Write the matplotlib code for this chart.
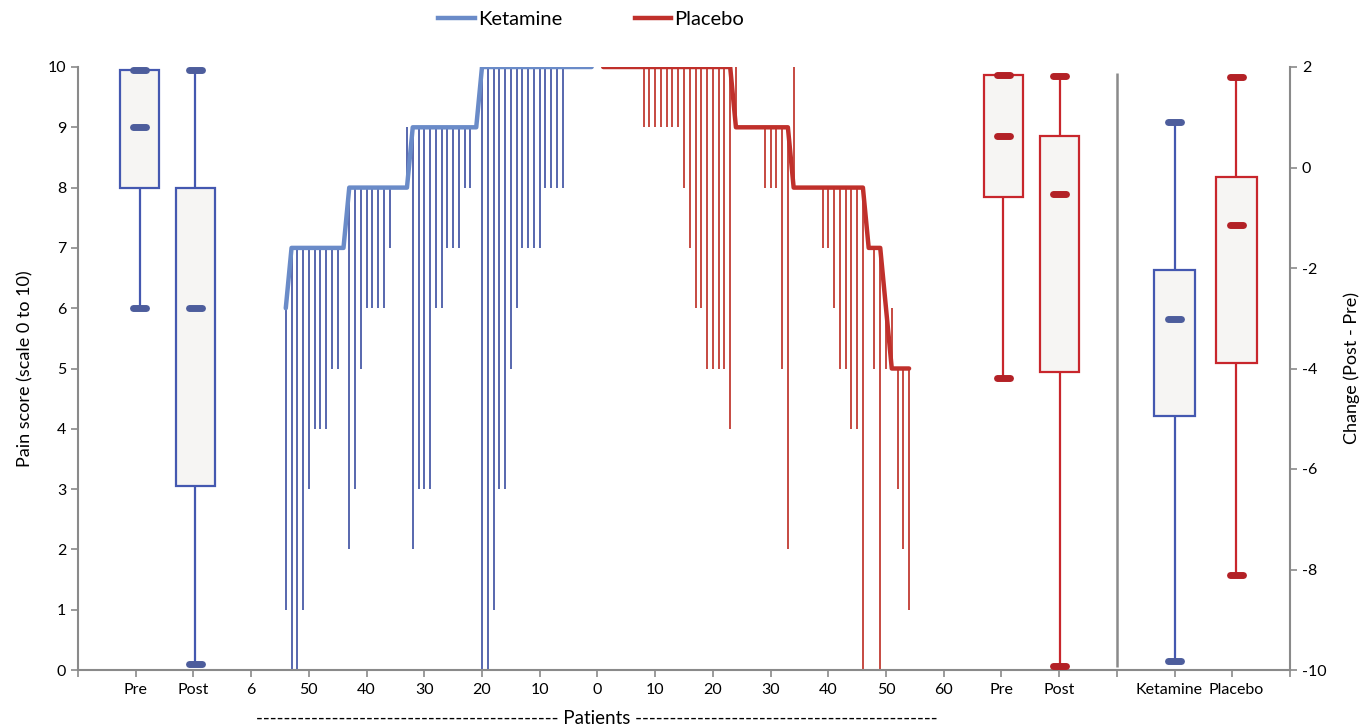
import matplotlib
matplotlib.use("Agg")
import matplotlib.pyplot as plt
from matplotlib.lines import Line2D
import numpy as np

plt.rcParams['font.family'] = ['Lato', 'DejaVu Sans']
plt.rcParams['axes.unicode_minus'] = False

# patient profiles (sorted), patient 1..54
ket_pre = [10, 10, 10, 10, 10, 10, 10, 10, 10, 10,
           10, 10, 10, 10, 10, 10, 10, 10, 10, 10,
           9, 9, 9, 9, 9, 9, 9, 9, 9, 9,
           9, 9, 8, 8, 8, 8, 8, 8, 8, 8,
           8, 8, 8, 7, 7, 7, 7, 7, 7, 7,
           7, 7, 7, 6]
ket_post = [10, 10, 10, 10, 10, 8, 8, 8, 8, 7,
            7, 7, 7, 6, 5, 3, 3, 1, 0, 0,
            9, 8, 8, 7, 7, 7, 6, 6, 3, 3,
            3, 2, 9, 8, 8, 7, 6, 6, 6, 6,
            5, 3, 2, 7, 5, 5, 4, 4, 4, 3,
            1, 0, 0, 1]
pla_pre = [10, 10, 10, 10, 10, 10, 10, 10, 10, 10,
           10, 10, 10, 10, 10, 10, 10, 10, 10, 10,
           10, 10, 10, 9, 9, 9, 9, 9, 9, 9,
           9, 9, 9, 8, 8, 8, 8, 8, 8, 8,
           8, 8, 8, 8, 8, 8, 7, 7, 7, 6,
           5, 5, 5, 5]
pla_post = [10, 10, 10, 10, 10, 10, 10, 9, 9, 9,
            9, 9, 9, 9, 8, 7, 6, 6, 5, 5,
            5, 5, 4, 10, 9, 9, 9, 9, 8, 8,
            8, 5, 2, 10, 8, 8, 8, 8, 7, 7,
            6, 5, 5, 4, 4, 0, 7, 5, 0, 5,
            6, 3, 2, 1]

# box summaries: (q1, median, q3, low, high)
ket_boxes = {'Pre': (8.0, 9.0, 9.95, 6.0, 9.95), 'Post': (3.05, 6.0, 8.0, 0.1, 9.95)}
pla_boxes = {'Pre': (7.85, 8.85, 9.87, 4.85, 9.87), 'Post': (4.95, 7.9, 8.85, 0.07, 9.85)}
change_boxes = {'Ketamine': (-4.95, -3.01, -2.04, -9.83, 0.9),
                'Placebo': (-3.9, -1.15, -0.19, -8.1, 1.8)}

tick_labels = ['Pre', 'Post', '6', '50', '40', '30', '20', '10', '0',
               '10', '20', '30', '40', '50', '60', 'Pre', 'Post',
               'Ketamine', 'Placebo']
label_pos = [-80, -70, -60, -50, -40, -30, -20, -10, 0,
             10, 20, 30, 40, 50, 60, 70, 80, 99.0, 110.6]

blue_thick = '#6a8bc8'
blue_thin = '#4a5ca8'
blue_box = '#4458b0'
blue_mark = '#4d5d9c'
red_thick = '#c0302b'
red_thin = '#c23b33'
red_box = '#c8262c'
red_mark = '#b32126'
grey = '#8a8a8a'

fig = plt.figure(figsize=(13.71, 7.27), dpi=100)
ax = fig.add_axes([78 / 1371, 57 / 727, 1212 / 1371, 603 / 727])
ax2 = ax.twinx()


def draw_box(a, x, stats, edge, mark, w=6.8):
    q1, med, q3, lo, hi = stats
    a.vlines(x, lo, q1, color=edge, lw=1.6, zorder=2)
    a.vlines(x, q3, hi, color=edge, lw=1.6, zorder=2)
    a.bar(x, q3 - q1, bottom=q1, width=w, facecolor='#f6f5f3',
          edgecolor=edge, linewidth=1.6, zorder=3)
    a.hlines([lo, med, hi], x - 1.1, x + 1.1, color=mark, lw=5,
             capstyle='round', zorder=4)


n = np.arange(1, len(ket_pre) + 1)

# ketamine patients go left from 0, placebo to the right
ax.vlines(-n, ket_pre, ket_post, color=blue_thin, lw=1.3, zorder=2)
ax.plot(-n, ket_pre, color=blue_thick, lw=3.2, solid_capstyle='round',
        solid_joinstyle='round', zorder=3)
ax.vlines(n, pla_pre, pla_post, color=red_thin, lw=1.3, zorder=2)
ax.plot(n, pla_pre, color=red_thick, lw=3.2, solid_capstyle='round',
        solid_joinstyle='round', zorder=3)

draw_box(ax, -79.3, ket_boxes['Pre'], blue_box, blue_mark)
draw_box(ax, -69.7, ket_boxes['Post'], blue_box, blue_mark)
draw_box(ax, 70.3, pla_boxes['Pre'], red_box, red_mark)
draw_box(ax, 80.1, pla_boxes['Post'], red_box, red_mark)
draw_box(ax2, 100, change_boxes['Ketamine'], blue_box, blue_mark, w=7)
draw_box(ax2, 110.7, change_boxes['Placebo'], red_box, red_mark, w=7)

# separator between pain scores and change panel
ax.vlines(90, 0.05, 9.9, color=grey, lw=1.8)

ax.set_xlim(-90, 120)
ax.set_ylim(0, 10)
ax2.set_ylim(-10, 2)
ax.xaxis.remove_overlapping_locs = False
ax.set_xticks(np.arange(-90, 121, 10))
ax.set_xticklabels([])
ax.set_xticks(label_pos, minor=True)
ax.set_xticklabels(tick_labels, minor=True)
ax.set_yticks(range(0, 11))
ax2.set_yticks(range(-10, 3, 2))

for a in (ax, ax2):
    for s in a.spines.values():
        s.set_color(grey)
        s.set_linewidth(1.5)
    a.spines['top'].set_visible(False)
    a.tick_params(colors=grey, labelcolor='black', labelsize=11.5,
                  length=5, width=1.2)
ax.tick_params(axis='x', which='minor', length=0, pad=9,
               labelsize=11.5, labelcolor='black')
ax.spines['right'].set_visible(False)
ax2.spines['left'].set_visible(False)
ax2.spines['bottom'].set_visible(False)

ax.set_ylabel('Pain score (scale 0 to 10)', fontsize=13, labelpad=10)
ax2.set_ylabel('Change (Post - Pre)', fontsize=13, labelpad=12,
               rotation=90)
ax.set_xlabel('-' * 44 + ' Patients ' + '-' * 44, fontsize=13.5,
              labelpad=10, x=(597 - 78) / 1212)

handles = [Line2D([], [], color=blue_thick, lw=3.2),
           Line2D([], [], color=red_thick, lw=3.2)]
fig.legend(handles, ['Ketamine', 'Placebo'], ncol=2, loc='center',
           bbox_to_anchor=(591 / 1371, 0.973), frameon=False,
           fontsize=14.5, handlelength=1.8, handletextpad=0.15,
           columnspacing=3.6)

fig.savefig('out.png', dpi=100)
